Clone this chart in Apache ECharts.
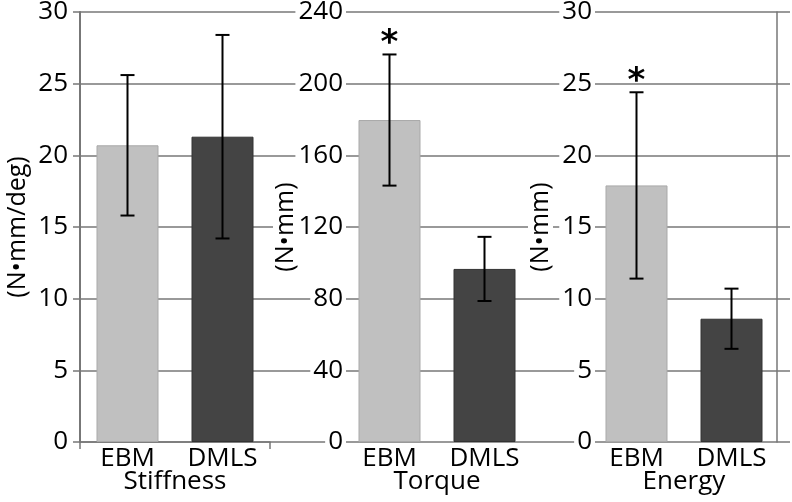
<!DOCTYPE html>
<html>
<head>
<meta charset="utf-8">
<script src="https://cdn.jsdelivr.net/npm/echarts@6/dist/echarts.min.js"></script>
<style>
html,body{margin:0;padding:0;background:#fff;}
#chart{width:792px;height:502px;}
</style>
</head>
<body>
<div id="chart"></div>
<script>
// ---- data ----
var categories = ['EBM', 'DMLS'];
var panelNames = ['Stiffness', 'Torque', 'Energy'];
var unitNames = ['(N\u2022mm/deg)', '(N\u2022mm)', '(N\u2022mm)'];
var stiffnessMean = [20.7, 21.3];
var stiffnessSD = [4.9, 7.1];
var torqueMean = [179.7, 96.6];
var torqueSD = [36.6, 17.9];
var energyMean = [17.9, 8.6];
var energySD = [6.5, 2.1];
var stiffnessSig = [0, 0];
var torqueSig = [1, 0];
var energySig = [1, 0];
var stiffnessTicks = [0, 30, 5];
var torqueTicks = [0, 240, 40];
var energyTicks = [0, 30, 5];

var FONT = 'Open Sans';
var FS = 26;
var barColors = ['#c0c0c0', '#444444'];
var barBorders = ['#a9a9a9', '#333333'];
var gridColor = '#777777';

var chart = echarts.init(document.getElementById('chart'), null, {renderer: 'canvas'});

var means = [stiffnessMean, torqueMean, energyMean];
var sds = [stiffnessSD, torqueSD, energySD];
var sigs = [stiffnessSig, torqueSig, energySig];
var ticks = [stiffnessTicks, torqueTicks, energyTicks];
var gridLefts = [80, 342, 589];
var axisOffsets = [0, -4, -6];
var nameGaps = [50, 48, 42];

var grids = [{left: 80, right: 2, top: 12, bottom: 60, outerBoundsMode: 'none', containLabel: false}];
var xAxes = [{type: 'value', gridIndex: 0, min: 0, max: 1, show: false}];
var yAxes = [{
  type: 'value', gridIndex: 0, min: 0, max: 30, interval: 5,
  axisLine: {show: false}, axisTick: {show: false}, axisLabel: {show: false},
  splitLine: {show: true, lineStyle: {color: gridColor, width: 1.5}}
}];
var series = [];

for (var p = 0; p < 3; p++) {
  var gi = p + 1;
  var first = p === 0;
  grids.push({left: gridLefts[p], top: 12, width: 190, height: 430, outerBoundsMode: 'none', containLabel: false});
  xAxes.push({
    type: 'category', gridIndex: gi, data: categories,
    axisLine: {show: first, lineStyle: {color: gridColor, width: 1.5}},
    axisTick: {show: first, length: 7, interval: function (i) { return i === 0; },
               lineStyle: {color: gridColor, width: 1.5}},
    axisLabel: {color: '#000', fontFamily: FONT, fontSize: FS, margin: 4},
    name: panelNames[p], nameLocation: 'middle', nameGap: 27, nameMoveOverlap: false,
    nameTextStyle: {color: '#000', fontFamily: FONT, fontSize: FS}
  });
  yAxes.push({
    type: 'value', gridIndex: gi, min: ticks[p][0], max: ticks[p][1], interval: ticks[p][2],
    offset: axisOffsets[p], z: 3,
    axisLine: {show: first, lineStyle: {color: gridColor, width: 2}},
    axisTick: {show: first, length: 7, lineStyle: {color: gridColor, width: 1.5}},
    splitLine: {show: false},
    axisLabel: first ? {color: '#000', fontFamily: FONT, fontSize: FS, margin: 12}
                     : {color: '#000', fontFamily: FONT, fontSize: FS, margin: 0,
                        backgroundColor: '#fff', padding: [0, 3, 0, 3]},
    name: unitNames[p], nameLocation: 'middle', nameRotate: 90, nameGap: nameGaps[p],
    nameMoveOverlap: false,
    nameTextStyle: {color: '#000', fontFamily: FONT, fontSize: 25,
                    backgroundColor: first ? 'transparent' : '#fff', padding: [0, 2, 0, 2]}
  });
  var yIdx = yAxes.length - 1;
  var barData = means[p].map(function (v, i) {
    return {value: v, itemStyle: {color: barColors[i], borderColor: barBorders[i], borderWidth: 1}};
  });
  series.push({
    type: 'bar', xAxisIndex: gi, yAxisIndex: yIdx, data: barData,
    barWidth: 62, z: 2, animation: false
  });
  var errData = means[p].map(function (v, i) {
    return [i, v, sds[p][i], sigs[p][i]];
  });
  series.push({
    type: 'custom', xAxisIndex: gi, yAxisIndex: yIdx, data: errData, z: 5, animation: false,
    encode: {x: 0, y: 1},
    renderItem: function (params, api) {
      var ci = api.value(0), m = api.value(1), s = api.value(2), sig = api.value(3);
      var x = api.coord([ci, m])[0];
      var yt = api.coord([ci, m + s])[1];
      var yb = api.coord([ci, m - s])[1];
      var st = {stroke: '#000', lineWidth: 2};
      var ch = [
        {type: 'line', shape: {x1: x, y1: yt, x2: x, y2: yb}, style: st},
        {type: 'line', shape: {x1: x - 7, y1: yt, x2: x + 7, y2: yt}, style: st},
        {type: 'line', shape: {x1: x - 7, y1: yb, x2: x + 7, y2: yb}, style: st}
      ];
      if (sig) {
        ch.push({type: 'text', style: {text: '*', x: x, y: yt - 10, align: 'center', verticalAlign: 'middle',
          fill: '#000', font: 'bold 34px "DejaVu Sans"'}});
      }
      return {type: 'group', children: ch};
    }
  });
}

// right border line
yAxes.push({
  type: 'value', gridIndex: 3, position: 'right', min: 0, max: 30, offset: -2,
  axisLine: {show: true, lineStyle: {color: gridColor, width: 1.5}},
  axisTick: {show: false}, axisLabel: {show: false}, splitLine: {show: false}
});

chart.setOption({
  animation: false,
  backgroundColor: '#fff',
  grid: grids,
  xAxis: xAxes,
  yAxis: yAxes,
  series: series
});
</script>
</body>
</html>
